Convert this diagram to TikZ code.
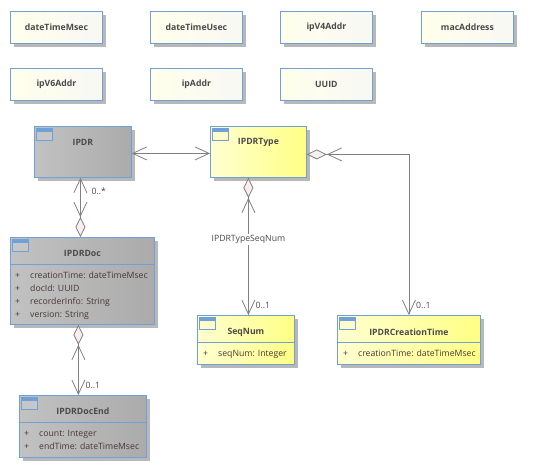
\documentclass[tikz,border=0pt]{standalone}
\usepackage{fontspec}
\setmainfont{Open Sans}
\usetikzlibrary{arrows.meta,shadows,positioning}

\definecolor{umlblue}{HTML}{6FA0D8}
\definecolor{linegray}{HTML}{808080}
\definecolor{diamondfill}{HTML}{F9EEEE}
\definecolor{namegray}{HTML}{4A4A4A}
\definecolor{attrbrown}{HTML}{4A3636}

\begin{document}
\begin{tikzpicture}[x=1pt,y=-1pt,
                font=\fontsize{8.7}{10}\selectfont,
                barb/.tip={Straight Barb[length=14pt,width=13pt,line width=0.8pt]},
                dmd/.tip={Diamond[length=20pt,width=10pt,fill=diamondfill,line width=0.8pt]},
                box/.style={draw=umlblue,line width=0.8pt,anchor=north west,inner sep=0pt,
                    drop shadow={shadow xshift=3.5pt,shadow yshift=-3.5pt,fill=black!28,opacity=1}},
                typebox/.style={box,left color=yellow!8!white,right color=yellow!30!black!4!white,
                    text=namegray,font=\fontsize{8.7}{10}\selectfont\bfseries,
                    minimum width=92pt,minimum height=32pt},
                graybox/.style={box,left color=black!24,right color=black!33},
                yellowbox/.style={box,left color=yellow!18,right color=yellow!48},
                clsname/.style={text=namegray,font=\fontsize{8.7}{10}\selectfont\bfseries},
                attrs/.style={anchor=north west,inner sep=0pt,text=attrbrown,
                    font=\fontsize{8.7}{13}\selectfont},
                icon/.style={draw=umlblue,line width=0.6pt,anchor=north west,inner sep=0pt,
                    minimum width=16pt,minimum height=12pt,
                    path picture={\fill[umlblue] (path picture bounding box.north west)
                        rectangle ([yshift=-3.5pt]path picture bounding box.north east);}},
                assoc/.style={draw=linegray,line width=0.8pt},
                lbl/.style={inner sep=1pt,text=namegray},
                ]
  \useasboundingbox (0,0) rectangle (547,467);

  % data types
  \node[typebox] (dtmsec) at (10,11)  {dateTimeMsec};
  \node[typebox] (dtusec) at (150,11) {dateTimeUsec};
  \node[typebox] (ipv4)   at (280,11) {ipV4Addr};
  \node[typebox] (mac)    at (421,11) {macAddress};
  \node[typebox] (ipv6)   at (10,68)  {ipV6Addr};
  \node[typebox] (ipaddr) at (150,68) {ipAddr};
  \node[typebox] (uuid)   at (280,68) {UUID};

  % classes
  \node[graybox,minimum width=97pt,minimum height=51pt] (ipdr) at (34,126) {};
  \node[icon,fill=black!22] (ipdricon) at ([shift={(2pt,-2pt)}]ipdr.north west) {};
  \node[clsname] (ipdrname) at ([yshift=-16pt]ipdr.north) {IPDR};

  \node[yellowbox,minimum width=96pt,minimum height=51pt] (ipdrtype) at (210,126) {};
  \node[icon,fill=yellow!20] (typeicon) at ([shift={(2pt,-2pt)}]ipdrtype.north west) {};
  \node[clsname] (typename) at ([yshift=-16pt]ipdrtype.north) {IPDRType};

  \node[graybox,minimum width=144pt,minimum height=87pt] (doc) at (10,237) {};
  \node[icon,fill=black!22] (docicon) at ([shift={(2pt,-2pt)}]doc.north west) {};
  \node[clsname] (docname) at ([yshift=-16pt]doc.north) {IPDRDoc};
  \draw[umlblue,line width=0.8pt] ([yshift=-27pt]doc.north west) -- ([yshift=-27pt]doc.north east);
  \node[attrs] (docattrs) at ([shift={(5pt,-32pt)}]doc.north west)
    {\begin{tabular}{@{}l@{\hspace{10pt}}l@{}}
     + & creationTime: dateTimeMsec\\
     + & docId: UUID\\
     + & recorderInfo: String\\
     + & version: String
     \end{tabular}};

  \node[graybox,minimum width=127pt,minimum height=62pt] (docend) at (19,395) {};
  \node[icon,fill=black!22] (endicon) at ([shift={(2pt,-2pt)}]docend.north west) {};
  \node[clsname] (endname) at ([yshift=-16pt]docend.north) {IPDRDocEnd};
  \draw[umlblue,line width=0.8pt] ([yshift=-27pt]docend.north west) -- ([yshift=-27pt]docend.north east);
  \node[attrs] (endattrs) at ([shift={(5pt,-32pt)}]docend.north west)
    {\begin{tabular}{@{}l@{\hspace{10pt}}l@{}}
     + & count: Integer\\
     + & endTime: dateTimeMsec
     \end{tabular}};

  \node[yellowbox,minimum width=97pt,minimum height=49pt] (seqnum) at (197,315) {};
  \node[icon,fill=yellow!20] (seqicon) at ([shift={(2pt,-2pt)}]seqnum.north west) {};
  \node[clsname] (seqname) at ([yshift=-17pt]seqnum.north) {SeqNum};
  \draw[umlblue,line width=0.8pt] ([yshift=-27pt]seqnum.north west) -- ([yshift=-27pt]seqnum.north east);
  \node[attrs] (seqattrs) at ([shift={(6pt,-32pt)}]seqnum.north west)
    {\begin{tabular}{@{}l@{\hspace{10pt}}l@{}}
     + & seqNum: Integer
     \end{tabular}};

  \node[yellowbox,minimum width=143pt,minimum height=49pt] (ctime) at (337,315) {};
  \node[icon,fill=yellow!20] (cticon) at ([shift={(2pt,-2pt)}]ctime.north west) {};
  \node[clsname] (ctname) at ([yshift=-17pt]ctime.north) {IPDRCreationTime};
  \draw[umlblue,line width=0.8pt] ([yshift=-27pt]ctime.north west) -- ([yshift=-27pt]ctime.north east);
  \node[attrs] (ctattrs) at ([shift={(6pt,-32pt)}]ctime.north west)
    {\begin{tabular}{@{}l@{\hspace{10pt}}l@{}}
     + & creationTime: dateTimeMsec
     \end{tabular}};

  % associations
  \draw[assoc,barb-barb] ([yshift=-1.5pt]ipdr.east) -- ([yshift=-1.5pt]ipdrtype.west);

  \coordinate (docin) at ([xshift=-2pt]doc.north);
  \draw[assoc,barb-{barb[]dmd[]}] (ipdr.south -| docin) -- (docin);
  \node[lbl,anchor=west] (docmult) at ([shift={(10pt,-13pt)}]ipdr.south -| docin) {0..*};

  \coordinate (seqin) at ([xshift=2.5pt]seqnum.north);
  \draw[assoc,{dmd[]barb[]}-barb] (ipdrtype.south -| seqin) -- (seqin)
    node[pos=0.45,fill=white,inner sep=1pt,text=namegray] (seqrole) {IPDRTypeSeqNum};
  \node[lbl,above right=5pt and 6pt of seqin] (seqmult) {0..1};

  \draw[assoc,{dmd[]barb[]}-barb] ([yshift=-2.5pt]ipdrtype.east) -| (ctime.north);
  \node[lbl,above right=5pt and 6pt of ctime.north] (ctmult) {0..1};

  \coordinate (endin) at ([xshift=-4.5pt]docend.north);
  \draw[assoc,{dmd[]barb[]}-barb] (doc.south -| endin) -- (endin);
  \node[lbl,above right=5pt and 6pt of endin] (endmult) {0..1};
\end{tikzpicture}
\end{document}
